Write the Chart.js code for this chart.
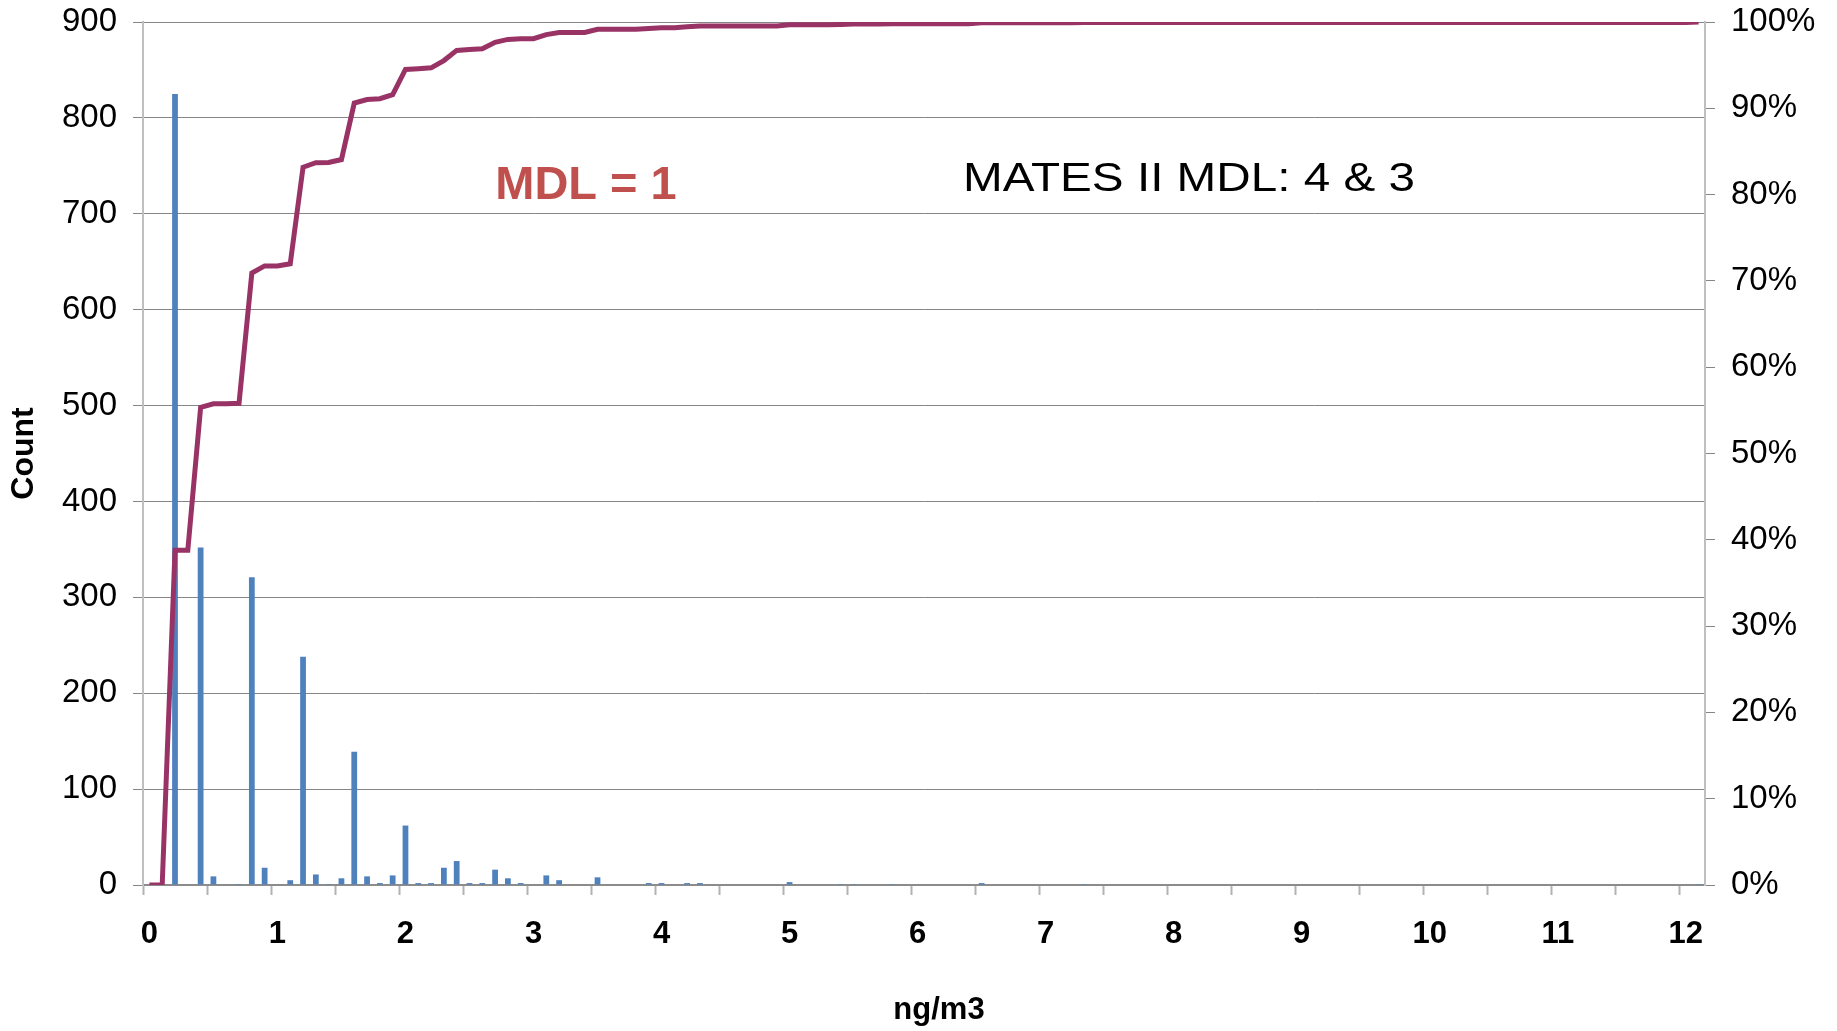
<!DOCTYPE html>
<html>
<head>
<meta charset="utf-8">
<script src="https://cdn.jsdelivr.net/npm/chart.js@4.4.1/dist/chart.umd.min.js"></script>
<style>
  html, body { margin: 0; padding: 0; background: #fff; }
  #wrap { width: 1837px; height: 1031px; }
</style>
</head>
<body>
<div id="wrap"><canvas id="histChart"></canvas></div>
<script>
// histogram bins, ng/m3 (0.1 wide)
const bins = [
  '0.0','0.1','0.2','0.3','0.4','0.5','0.6','0.7','0.8','0.9',
  '1.0','1.1','1.2','1.3','1.4','1.5','1.6','1.7','1.8','1.9',
  '2.0','2.1','2.2','2.3','2.4','2.5','2.6','2.7','2.8','2.9',
  '3.0','3.1','3.2','3.3','3.4','3.5','3.6','3.7','3.8','3.9',
  '4.0','4.1','4.2','4.3','4.4','4.5','4.6','4.7','4.8','4.9',
  '5.0','5.1','5.2','5.3','5.4','5.5','5.6','5.7','5.8','5.9',
  '6.0','6.1','6.2','6.3','6.4','6.5','6.6','6.7','6.8','6.9',
  '7.0','7.1','7.2','7.3','7.4','7.5','7.6','7.7','7.8','7.9',
  '8.0','8.1','8.2','8.3','8.4','8.5','8.6','8.7','8.8','8.9',
  '9.0','9.1','9.2','9.3','9.4','9.5','9.6','9.7','9.8','9.9',
  '10.0','10.1','10.2','10.3','10.4','10.5','10.6','10.7','10.8','10.9',
  '11.0','11.1','11.2','11.3','11.4','11.5','11.6','11.7','11.8','11.9',
  '12.0','12.1'
];

const counts = [
  0, 0, 825, 0, 352, 9, 0, 1, 321, 18,
  0, 5, 238, 11, 1, 7, 139, 9, 2, 10,
  62, 2, 2, 18, 25, 2, 2, 16, 7, 2,
  0, 10, 5, 0, 0, 8, 0, 0, 0, 2,
  2, 0, 2, 2, 0, 0, 0, 0, 0, 0,
  3, 0, 0, 0, 1, 1, 0, 0, 1, 0,
  0, 0, 0, 0, 0, 2, 0, 0, 0, 0,
  0, 0, 0, 1, 0, 0, 0, 0, 0, 0,
  0, 0, 0, 0, 0, 0, 0, 0, 0, 0,
  0, 0, 0, 0, 0, 0, 0, 0, 0, 0,
  0, 0, 0, 0, 0, 0, 0, 0, 0, 0,
  0, 0, 0, 0, 0, 0, 0, 0, 0, 0,
  0, 1
];

// cumulative %
const cumulativePct = [
  0, 0, 38.79, 38.79, 55.34, 55.76, 55.76, 55.81, 70.90, 71.74,
  71.74, 71.98, 83.17, 83.69, 83.73, 84.06, 90.60, 91.02, 91.11, 91.58,
  94.50, 94.59, 94.69, 95.53, 96.71, 96.80, 96.90, 97.65, 97.98, 98.07,
  98.07, 98.54, 98.78, 98.78, 98.78, 99.15, 99.15, 99.15, 99.15, 99.25,
  99.34, 99.34, 99.44, 99.53, 99.53, 99.53, 99.53, 99.53, 99.53, 99.53,
  99.67, 99.67, 99.67, 99.67, 99.72, 99.76, 99.76, 99.76, 99.81, 99.81,
  99.81, 99.81, 99.81, 99.81, 99.81, 99.91, 99.91, 99.91, 99.91, 99.91,
  99.91, 99.91, 99.91, 99.95, 99.95, 99.95, 99.95, 99.95, 99.95, 99.95,
  99.95, 99.95, 99.95, 99.95, 99.95, 99.95, 99.95, 99.95, 99.95, 99.95,
  99.95, 99.95, 99.95, 99.95, 99.95, 99.95, 99.95, 99.95, 99.95, 99.95,
  99.95, 99.95, 99.95, 99.95, 99.95, 99.95, 99.95, 99.95, 99.95, 99.95,
  99.95, 99.95, 99.95, 99.95, 99.95, 99.95, 99.95, 99.95, 99.95, 99.95,
  99.95, 100
];

const xTickLabels = ['0', '1', '2', '3', '4', '5', '6', '7', '8', '9', '10', '11', '12'];

const FONT = "'Liberation Sans', Arial, sans-serif";

// text notes inside the plot + x title (sits a bit right of centre)
const notesPlugin = {
  id: 'notes',
  afterDraw(chart) {
    const { ctx, chartArea: a } = chart;
    ctx.save();
    ctx.textBaseline = 'alphabetic';

    ctx.fillStyle = '#C0504D';
    ctx.font = 'bold 47px ' + FONT;
    ctx.textAlign = 'center';
    ctx.fillText('MDL = 1', a.left + 443, a.top + 177);

    ctx.fillStyle = '#000';
    ctx.font = 'bold 31px ' + FONT;
    ctx.fillText('ng/m3', (a.left + a.right) / 2 + 15, a.bottom + 134);

    const txt = 'MATES II MDL: 4 & 3';
    ctx.font = '41px ' + FONT;
    ctx.textAlign = 'left';
    const w = ctx.measureText(txt).width;
    ctx.translate(a.left + 820, a.top + 169);
    ctx.scale(452 / w, 1);
    ctx.fillText(txt, 0, 0);
    ctx.restore();
  }
};

// keep the plot box where the original has it
const fitY = width => s => {
  s.width = width;
  s.paddingTop = 0;
  s.paddingBottom = 0;
};

Chart.defaults.font.family = FONT;
Chart.defaults.color = '#000';

new Chart(document.getElementById('histChart'), {
  type: 'bar',
  data: {
    labels: bins,
    datasets: [
      {
        type: 'line',
        label: 'Cumulative %',
        data: cumulativePct,
        yAxisID: 'y1',
        borderColor: '#993366',
        borderWidth: 5,
        pointRadius: 0,
        tension: 0,
        fill: false,
        order: 0
      },
      {
        type: 'bar',
        label: 'Count',
        data: counts,
        yAxisID: 'y',
        backgroundColor: '#4F81BD',
        barPercentage: 0.45,
        categoryPercentage: 1,
        order: 1
      }
    ]
  },
  options: {
    responsive: true,
    maintainAspectRatio: false,
    animation: false,
    layout: { padding: { top: 22, left: 0, right: 0, bottom: 0 } },
    plugins: {
      legend: { display: false },
      tooltip: { enabled: false }
    },
    scales: {
      x: {
        type: 'category',
        offset: true,
        grid: {
          display: true,
          offset: true,
          drawOnChartArea: false,
          tickLength: 10,
          tickWidth: 2,
          tickColor: c => (c.index % 5 === 0 ? '#B3B3B3' : 'rgba(0,0,0,0)')
        },
        border: { color: '#8C8C8C', width: 2 },
        ticks: {
          autoSkip: false,
          maxRotation: 0,
          minRotation: 0,
          padding: 21,
          font: { size: 31, weight: 'bold' },
          callback: (v, i) => (i % 10 === 0 ? xTickLabels[i / 10] : '')
        },
        afterFit: s => { s.height = 146; }
      },
      y: {
        position: 'left',
        min: 0,
        max: 900,
        ticks: { stepSize: 100, padding: 16, font: { size: 33 } },
        grid: { color: '#868686', lineWidth: 1, tickLength: 10, tickColor: '#868686' },
        border: { color: '#BFBFBF', width: 2 },
        title: {
          display: true,
          text: 'Count',
          font: { size: 32, weight: 'bold' },
          padding: { top: 5, bottom: 0 }
        },
        afterFit: fitY(143)
      },
      y1: {
        position: 'right',
        min: 0,
        max: 100,
        ticks: { stepSize: 10, padding: 16, font: { size: 33 }, callback: v => v + '%' },
        grid: { drawOnChartArea: false, tickLength: 10, tickColor: '#868686' },
        border: { color: '#BFBFBF', width: 2 },
        afterFit: fitY(132)
      }
    }
  },
  plugins: [notesPlugin]
});
</script>
</body>
</html>
